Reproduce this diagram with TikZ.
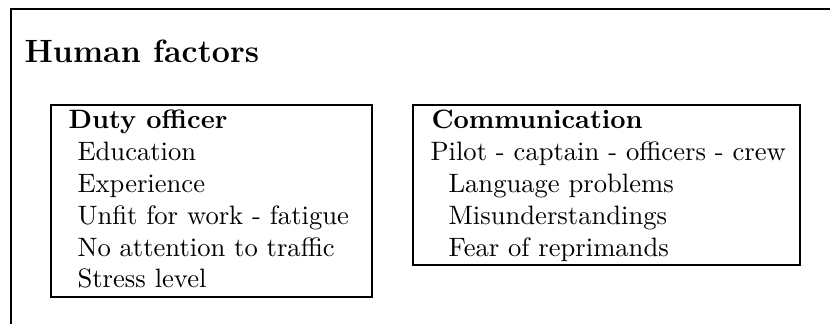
\documentclass[tikz,border=0pt]{standalone}
\usetikzlibrary{fit}
\begin{document}
\begin{tikzpicture}[x=0.35714pt,y=-0.35714pt,
  frameline/.style={line width=0.75pt},
  boxframe/.style={draw,line width=0.75pt,inner sep=0pt},
  txt/.style={anchor=base west,inner sep=0pt,font=\fontsize{9.5}{11.5}\selectfont},
  head/.style={txt,font=\fontsize{9.5}{11.5}\selectfont\bfseries},
  ttl/.style={anchor=base west,inner sep=0pt,font=\fontsize{11.5}{14}\selectfont\bfseries}]
\useasboundingbox (0,0) rectangle (830,324);
\clip (0,0) rectangle (830,324);
\coordinate (fa) at (11,340);
\coordinate (fb) at (11,9);
\coordinate (fc) at (850,9);
\draw[frameline] (fa) -- (fb) -- (fc);
\node[ttl] (title) at (24,63) {Human factors};
% box 1
\node[boxframe,fit={(51,105) (372,297)}] (duty) {};
\node[head] (d0) at (68,129) {Duty officer};
\node[txt] (d1) at (77,161) {Education};
\node[txt] (d2) at (77,193) {Experience};
\node[txt] (d3) at (77,225) {Unfit for work - fatigue};
\node[txt] (d4) at (77,257) {No attention to traffic};
\node[txt] (d5) at (77,288) {Stress level};
% box 2
\node[boxframe,fit={(413,105) (800,265)}] (comm) {};
\node[head] (c0) at (431,129) {Communication};
\node[txt] (c1) at (430,161) {Pilot - captain - officers - crew};
\node[txt] (c2) at (448,193) {Language problems};
\node[txt] (c3) at (448,225) {Misunderstandings};
\node[txt] (c4) at (448,257) {Fear of reprimands};
\end{tikzpicture}
\end{document}
